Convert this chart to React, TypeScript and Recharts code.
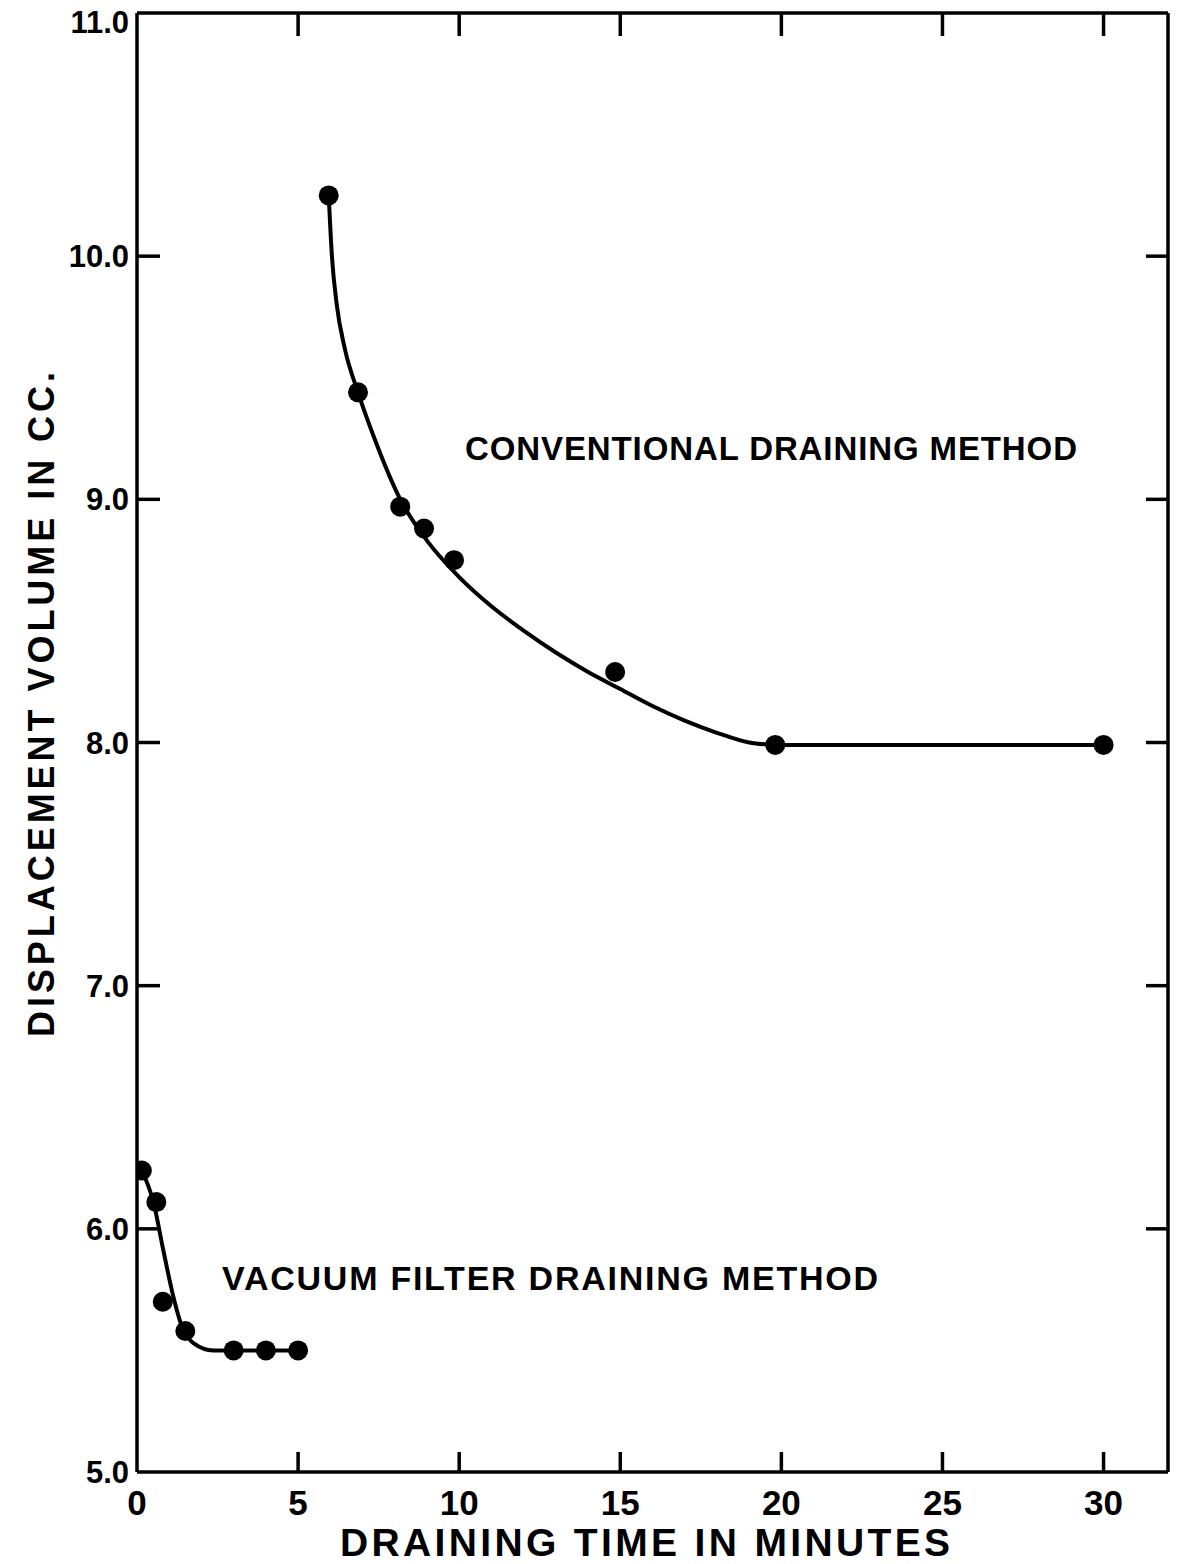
import React from 'react';
import { ComposedChart, Line, Scatter, XAxis, YAxis } from 'recharts';

// measured points
const convTime = [5.95, 6.86, 8.17, 8.91, 9.84, 14.84, 19.81, 30.0];
const convVolume = [10.25, 9.44, 8.97, 8.88, 8.75, 8.29, 7.99, 7.99];
const vacTime = [0.15, 0.6, 0.8, 1.5, 3.0, 4.0, 5.0];
const vacVolume = [6.24, 6.11, 5.7, 5.58, 5.5, 5.5, 5.5];

// hand-fitted curves
const convCurveTime = [5.95, 6.05, 6.2, 6.45, 6.86, 7.4, 8.17, 9.0, 10.0, 11.0, 12.0, 13.0, 14.0, 15.0, 16.0, 17.0, 18.0, 19.0, 19.81];
const convCurveVolume = [10.25, 10.0, 9.8, 9.62, 9.44, 9.24, 9.0, 8.83, 8.68, 8.56, 8.46, 8.37, 8.29, 8.22, 8.15, 8.09, 8.04, 8.0, 7.99];
const convFlatTime = [19.81, 30.0];
const convFlatVolume = [7.99, 7.99];
const vacCurveTime = [0.15, 0.51, 0.82, 1.13, 1.39, 1.75, 2.37, 3.0, 4.0, 5.0];
const vacCurveVolume = [6.24, 6.11, 5.91, 5.72, 5.6, 5.53, 5.5, 5.5, 5.5, 5.5];

const xTicks = [0, 5, 10, 15, 20, 25, 30];
const yTicks = [5, 6, 7, 8, 9, 10, 11];

const FONT = '"Liberation Sans", Arial, sans-serif';

const zip = (xs: number[], ys: number[]) => xs.map((x, i) => ({ x, y: ys[i] }));

const convPoints = zip(convTime, convVolume);
const vacPoints = zip(vacTime, vacVolume);
const convCurve = zip(convCurveTime, convCurveVolume);
const convFlat = zip(convFlatTime, convFlatVolume);
const vacCurve = zip(vacCurveTime, vacCurveVolume);

const BottomTick = ({ x, y, payload }: any) => (
  <g>
    {payload.value !== 0 && <line x1={x} y1={y} x2={x} y2={y - 20} stroke="#000" strokeWidth={3.5} />}
    <text x={x} y={y + 43} textAnchor="middle" fontFamily={FONT} fontWeight={700} fontSize={35} fill="#000">
      {payload.value}
    </text>
  </g>
);

const TopTick = ({ x, y, payload }: any) =>
  payload.value === 0 ? <g /> : <line x1={x} y1={y} x2={x} y2={y + 23} stroke="#000" strokeWidth={3.5} />;

const LeftTick = ({ x, y, payload }: any) => (
  <g>
    {payload.value !== 5 && payload.value !== 11 && (
      <line x1={x} y1={y} x2={x + 23} y2={y} stroke="#000" strokeWidth={3.5} />
    )}
    <text x={x - 8} y={payload.value === 11 ? y + 20 : y + 11} textAnchor="end" fontFamily={FONT} fontWeight={700}
      fontSize={31} fill="#000">
      {Number(payload.value).toFixed(1)}
    </text>
  </g>
);

const RightTick = ({ x, y, payload }: any) =>
  payload.value === 5 || payload.value === 11 ? <g /> : <line x1={x} y1={y} x2={x - 22} y2={y} stroke="#000" strokeWidth={3.5} />;

const Dot = (props: any) => <circle cx={props.cx} cy={props.cy} r={10} fill="#000" />;

const axisLine = { stroke: '#000', strokeWidth: 3.5 };

const App: React.FC = () => {
  return (
    <div style={{ position: 'absolute', left: 0, top: 0, width: 1179, height: 1564, background: '#fff' }}>
      <ComposedChart width={1179} height={1564} margin={{ top: 0, right: 0, bottom: 0, left: 0 }}>
        <XAxis xAxisId="b" type="number" dataKey="x" domain={[0, 32]} ticks={xTicks} orientation="bottom"
          height={92} axisLine={axisLine} tickLine={false} tickSize={0} tickMargin={0} tick={<BottomTick />} allowDataOverflow />
        <XAxis xAxisId="t" type="number" dataKey="x" domain={[0, 32]} ticks={xTicks} orientation="top"
          height={13} axisLine={axisLine} tickLine={false} tickSize={0} tickMargin={0} tick={<TopTick />} allowDataOverflow />
        <YAxis yAxisId="l" type="number" dataKey="y" domain={[5, 11]} ticks={yTicks} orientation="left"
          width={137} axisLine={axisLine} tickLine={false} tickSize={0} tickMargin={0} tick={<LeftTick />} allowDataOverflow />
        <YAxis yAxisId="r" type="number" dataKey="y" domain={[5, 11]} ticks={yTicks} orientation="right"
          width={11} axisLine={axisLine} tickLine={false} tickSize={0} tickMargin={0} tick={<RightTick />} allowDataOverflow />

        <Line xAxisId="b" yAxisId="l" data={convCurve} dataKey="y" type="monotone" stroke="#000" strokeWidth={4}
          dot={false} activeDot={false} isAnimationActive={false} />
        <Line xAxisId="b" yAxisId="l" data={convFlat} dataKey="y" type="linear" stroke="#000" strokeWidth={4}
          dot={false} activeDot={false} isAnimationActive={false} />
        <Line xAxisId="b" yAxisId="l" data={vacCurve} dataKey="y" type="monotone" stroke="#000" strokeWidth={4}
          dot={false} activeDot={false} isAnimationActive={false} />
        <Scatter xAxisId="b" yAxisId="l" data={convPoints} dataKey="y" fill="#000" shape={<Dot />} isAnimationActive={false} />
        <Scatter xAxisId="b" yAxisId="l" data={vacPoints} dataKey="y" fill="#000" shape={<Dot />} isAnimationActive={false} />
      </ComposedChart>

      <svg width={1179} height={1564} style={{ position: 'absolute', left: 0, top: 0, pointerEvents: 'none' }}>
        <g fontFamily={FONT} fontWeight={700} fill="#000">
          <text x={465} y={460} fontSize={33} textLength={612} lengthAdjust="spacing">CONVENTIONAL DRAINING METHOD</text>
          <text x={222} y={1290} fontSize={34} textLength={656} lengthAdjust="spacing">VACUUM FILTER DRAINING METHOD</text>
          <text x={340} y={1556} fontSize={39} textLength={610} lengthAdjust="spacing">DRAINING TIME IN MINUTES</text>
          <text x={0} y={0} fontSize={36} textLength={665} lengthAdjust="spacing"
            transform="translate(54 1037) rotate(-90)">DISPLACEMENT VOLUME IN CC.</text>
        </g>
      </svg>
    </div>
  );
};

export default App;
